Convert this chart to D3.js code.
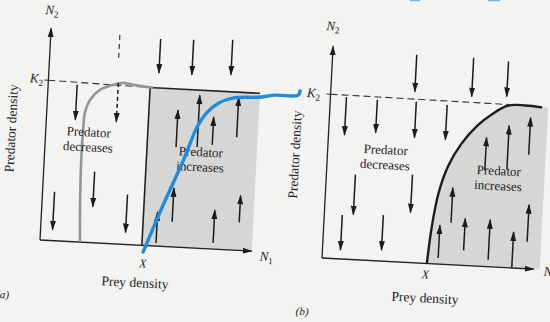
<!DOCTYPE html>
<html>
<head>
<meta charset="utf-8">
<script src="https://cdn.jsdelivr.net/npm/d3@7"></script>
<style>
  body { margin: 0; background: #f3f3f1; }
  text { font-family: "Liberation Serif", "DejaVu Serif", serif; fill: #222; }
</style>
</head>
<body>
<div id="chart"></div>
<script>
////////////////////////////////////////////////////////////////
// Data (density units, read off the scan; y measured up from the prey axis)

// panel (a)
let k2A = 160
let xA = 102
let grayCurveA = [[40,0],[38,42],[37,82],[37.3,112],[38.3,130],[42.7,142.6],[52,153],[65,158.8],[75,161.3],[85,159.8],[105,158]]
let blueCurveA = [[103.6,-6.6],[121,41],[139,87],[151,121],[160,136],[171,146],[186,152],[210,154],[228,157],[250,158],[252,162.5]]
// [x, tail, tip]
let downA = [[110,207,173],[143,208,173],[182,210,175],[29,157,122],[12,49,11],[51,71,36],[85,50,12]]
let dashedDownA = [[70,161,122]]
let dashedMarkA = [[69,209,186]]
let upA = [[131,100,137],[152,101,153],[167,104,132],[191,113,153],[116,3,34],[131,25,59],[173,6,39],[198,28,55]]

// panel (b)
let k2B = 164
let curveB = [[105,0],[108,37],[113,71],[121,98],[133,121],[148,140],[163,153],[178,162],[195,163],[212,162]]
let downB = [[84,208,171],[141,208,169],[176,206,171],[16,162,124],[47,161,128],[86,161,125],[117,159.5,124.5],[29,85,45],[86,88,50],[18,44,9],[59,46,11]]
let upB = [[116,6,39],[127,42,77],[141,15,47],[166,7,47],[190,1,36],[204,27,64],[158,96,129],[180,98,142],[201,114,151]]

// stray blue pen mark cut by the top edge of the scan (page pixels)
let topBlue = [[[410,0],[420,0]], [[488,0],[500,0]]]

let axisMax = 212
let shadeRight = 212

////////////////////////////////////////////////////////////////
// Setup

let svg = d3.select("#chart").append("svg")
  .attr("width", 550)
  .attr("height", 322)

svg.append("rect").attr("width", 550).attr("height", 322).attr("fill", "#f3f3f1")

let defs = svg.append("defs")
defs.append("marker")
  .attr("id", "head")
  .attr("markerUnits", "userSpaceOnUse")
  .attr("viewBox", "0 -4 10 8")
  .attr("refX", 9).attr("refY", 0)
  .attr("markerWidth", 10).attr("markerHeight", 8)
  .attr("orient", "auto")
  .append("path").attr("d", "M0,-3L10,0L0,3Z").attr("fill", "#1c1c1c")

let x = d3.scaleLinear().domain([0, 220]).range([0, 220])
let y = d3.scaleLinear().domain([0, 220]).range([0, -220])
let line = d3.line().x(d => x(d[0])).y(d => y(d[1])).curve(d3.curveCatmullRom)

function axes(g) {
  g.append("line").attr("x1", x(0)).attr("y1", y(0)).attr("x2", x(0)).attr("y2", y(axisMax))
    .attr("stroke", "#222").attr("stroke-width", 1.3).attr("marker-end", "url(#head)")
  g.append("line").attr("x1", x(0)).attr("y1", y(0)).attr("x2", x(axisMax)).attr("y2", y(0))
    .attr("stroke", "#222").attr("stroke-width", 1.3).attr("marker-end", "url(#head)")
}

function arrows(g, data, dashed) {
  g.selectAll(null).data(data).enter().append("line")
    .attr("x1", d => x(d[0])).attr("y1", d => y(d[1]))
    .attr("x2", d => x(d[0])).attr("y2", d => y(d[2]))
    .attr("stroke", "#1c1c1c").attr("stroke-width", 1.5)
    .attr("stroke-dasharray", dashed ? "4,3" : null)
    .attr("marker-end", "url(#head)")
}

function sub(g, tx, ty, main, s, size, anchor) {
  let t = g.append("text").attr("x", tx).attr("y", ty)
    .attr("font-size", size).attr("font-style", "italic").attr("text-anchor", anchor || "middle")
  t.append("tspan").text(main)
  if (s) t.append("tspan").attr("dy", 3).attr("font-size", size * 0.7).attr("font-style", "normal").text(s)
}

function twoLines(g, cx, cy, a, b) {
  g.append("text").attr("x", x(cx)).attr("y", y(cy)).attr("text-anchor", "middle").attr("font-size", 13).text(a)
  g.append("text").attr("x", x(cx)).attr("y", y(cy - 15)).attr("text-anchor", "middle").attr("font-size", 13).text(b)
}

////////////////////////////////////////////////////////////////
// Panel (a)

let gA = svg.append("g").attr("transform", "translate(40,240) rotate(3)")

gA.append("rect")
  .attr("x", x(xA)).attr("y", y(k2A - 2))
  .attr("width", x(shadeRight) - x(xA)).attr("height", y(0) - y(k2A - 2))
  .attr("fill", "#d6d6d4")
gA.append("path")
  .attr("d", `M${x(xA)},${y(0)}V${y(k2A - 2)}H${x(shadeRight)}`)
  .attr("fill", "none").attr("stroke", "#222").attr("stroke-width", 1.6)

axes(gA)

gA.append("line").attr("x1", x(0)).attr("y1", y(k2A)).attr("x2", x(xA)).attr("y2", y(k2A - 2))
  .attr("stroke", "#333").attr("stroke-width", 1.1).attr("stroke-dasharray", "7,4")
gA.append("line").attr("x1", x(-4)).attr("y1", y(k2A)).attr("x2", x(0)).attr("y2", y(k2A))
  .attr("stroke", "#333").attr("stroke-width", 1.1)

gA.append("path").datum(grayCurveA).attr("d", line)
  .attr("fill", "none").attr("stroke", "#959595").attr("stroke-width", 2.6)

arrows(gA, downA, false)
arrows(gA, upA, false)
arrows(gA, dashedDownA, true)
gA.selectAll(null).data(dashedMarkA).enter().append("line")
  .attr("x1", d => x(d[0])).attr("y1", d => y(d[1]))
  .attr("x2", d => x(d[0])).attr("y2", d => y(d[2]))
  .attr("stroke", "#444").attr("stroke-width", 1.3).attr("stroke-dasharray", "5,4")

twoLines(gA, 43, 106, "Predator", "decreases")
twoLines(gA, 156, 92, "Predator", "increases")

sub(gA, x(0), y(226), "N", "2", 13)
sub(gA, x(-12), y(157), "K", "2", 13)
sub(gA, x(104), y(-22), "X", null, 12)
sub(gA, x(227), y(-9), "N", "1", 13)
gA.append("text").attr("x", x(97)).attr("y", y(-42)).attr("text-anchor", "middle").attr("font-size", 13.5).text("Prey density")
gA.append("text").attr("transform", `translate(${x(-30)},${y(110)}) rotate(-90)`)
  .attr("text-anchor", "middle").attr("font-size", 13.5).text("Predator density")
gA.append("text").attr("x", x(-28)).attr("y", y(-60)).attr("text-anchor", "end").attr("font-size", 11).attr("font-style", "italic").text("(a)")

gA.append("path").datum(blueCurveA).attr("d", line)
  .attr("fill", "none").attr("stroke", "#1d8be2").attr("stroke-width", 3.4).attr("stroke-linecap", "round")

////////////////////////////////////////////////////////////////
// Panel (b)

let gB = svg.append("g").attr("transform", "translate(322,258) rotate(3)")

let shadeB = curveB.concat([[shadeRight + 6, 162], [shadeRight + 6, 0]])
gB.append("path").datum(shadeB)
  .attr("d", d3.line().x(d => x(d[0])).y(d => y(d[1])).curve(d3.curveLinear))
  .attr("fill", "#d6d6d4")

axes(gB)

gB.append("line").attr("x1", x(0)).attr("y1", y(k2B)).attr("x2", x(178)).attr("y2", y(k2B - 1))
  .attr("stroke", "#333").attr("stroke-width", 1.1).attr("stroke-dasharray", "7,4")
gB.append("line").attr("x1", x(-4)).attr("y1", y(k2B)).attr("x2", x(0)).attr("y2", y(k2B))
  .attr("stroke", "#333").attr("stroke-width", 1.1)

gB.append("path").datum(curveB).attr("d", line)
  .attr("fill", "none").attr("stroke", "#1c1c1c").attr("stroke-width", 2.4)

arrows(gB, downB, false)
arrows(gB, upB, false)

twoLines(gB, 58, 107, "Predator", "decreases")
twoLines(gB, 172, 92, "Predator", "increases")

sub(gB, x(-1), y(228), "N", "2", 13)
sub(gB, x(-17), y(160), "K", "2", 13)
sub(gB, x(104), y(-15), "X", null, 12)
sub(gB, x(222), y(-6), "N", "1", 13, "start")
gB.append("text").attr("x", x(105)).attr("y", y(-39)).attr("text-anchor", "middle").attr("font-size", 13.5).text("Prey density")
gB.append("text").attr("transform", `translate(${x(-28)},${y(102)}) rotate(-90)`)
  .attr("text-anchor", "middle").attr("font-size", 13.5).text("Predator density")
gB.append("text").attr("x", x(-17)).attr("y", y(-58)).attr("text-anchor", "middle").attr("font-size", 11).attr("font-style", "italic").text("(b)")

svg.selectAll(".stray").data(topBlue).enter().append("path")
  .attr("class", "stray")
  .attr("d", d3.line())
  .attr("fill", "none").attr("stroke", "#6fb6ee").attr("stroke-width", 2.5)
</script>
</body>
</html>
